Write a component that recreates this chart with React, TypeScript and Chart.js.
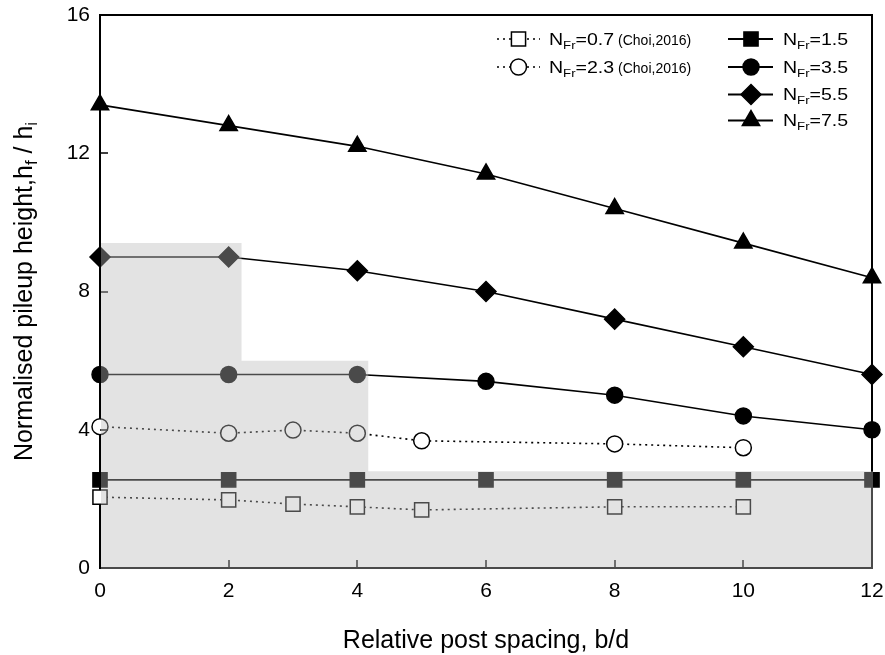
import React, { useEffect, useRef } from 'react';
import { Chart, registerables } from 'chart.js';

Chart.register(...registerables);

// ---------- data ----------
const xTicks = [0, 2, 4, 6, 8, 10, 12];
const yTicks = [0, 4, 8, 12, 16];

const spacing = [0, 2, 4, 6, 8, 10, 12];
const nfr15 = [2.55, 2.55, 2.55, 2.55, 2.55, 2.55, 2.55];
const nfr35 = [5.6, 5.6, 5.6, 5.4, 5.0, 4.4, 4.0];
const nfr55 = [9.0, 9.0, 8.6, 8.0, 7.2, 6.4, 5.6];
const nfr75 = [13.4, 12.8, 12.2, 11.4, 10.4, 9.4, 8.4];

const choiSpacing = [0, 2, 3, 4, 5, 8, 10];
const choi07 = [2.05, 1.97, 1.85, 1.77, 1.68, 1.77, 1.77];
const choi23 = [4.09, 3.9, 3.99, 3.9, 3.68, 3.59, 3.48];

// shaded step region: x edges and top value of each step
const shadeEdges = [0, 2.2, 4.17, 12];
const shadeTops = [9.4, 6.0, 2.8];

const legendValues = ['0.7', '2.3', '1.5', '3.5', '5.5', '7.5'];
const legendNote = ' (Choi,2016)';

const xTitle = 'Relative post spacing, b/d';

const FONT = '"Liberation Sans", Arial, sans-serif';

function pts(xs: number[], ys: number[]) {
  return xs.map((x, i) => ({ x, y: ys[i] }));
}

function drawMarker(ctx: CanvasRenderingContext2D, style: string, x: number, y: number, r: number, fill: string) {
  ctx.beginPath();
  if (style === 'rect') {
    const s = Math.SQRT1_2 * r;
    ctx.rect(x - s, y - s, 2 * s, 2 * s);
  } else if (style === 'circle') {
    ctx.arc(x, y, r, 0, Math.PI * 2);
  } else if (style === 'rectRot') {
    ctx.moveTo(x, y - r);
    ctx.lineTo(x + r, y);
    ctx.lineTo(x, y + r);
    ctx.lineTo(x - r, y);
    ctx.closePath();
  } else if (style === 'triangle') {
    let a = 0;
    ctx.moveTo(x + Math.sin(a) * r, y - Math.cos(a) * r);
    a += (2 * Math.PI) / 3;
    ctx.lineTo(x + Math.sin(a) * r, y - Math.cos(a) * r);
    a += (2 * Math.PI) / 3;
    ctx.lineTo(x + Math.sin(a) * r, y - Math.cos(a) * r);
    ctx.closePath();
  }
  ctx.fillStyle = fill;
  ctx.fill();
  ctx.strokeStyle = '#000';
  ctx.lineWidth = 1.5;
  ctx.stroke();
}

type Part = { t: string; size: number; dy: number; sx?: number };

function richWidth(ctx: CanvasRenderingContext2D, parts: Part[]) {
  let w = 0;
  for (const p of parts) {
    ctx.font = `${p.size}px ${FONT}`;
    w += ctx.measureText(p.t).width * (p.sx ?? 1);
  }
  return w;
}

function drawRich(ctx: CanvasRenderingContext2D, parts: Part[], x: number, y: number) {
  let cx = x;
  for (const p of parts) {
    const sx = p.sx ?? 1;
    ctx.font = `${p.size}px ${FONT}`;
    ctx.save();
    ctx.translate(cx, y + p.dy);
    ctx.scale(sx, 1);
    ctx.fillText(p.t, 0, 0);
    ctx.restore();
    cx += ctx.measureText(p.t).width * sx;
  }
}

const decorPlugin = {
  id: 'decor',
  afterDraw(chart: any) {
    const { ctx, chartArea: a, scales } = chart;
    const xs = scales.x;
    const ys = scales.y;
    ctx.save();

    // inward tick marks
    ctx.strokeStyle = '#000';
    ctx.lineWidth = 1.5;
    ctx.beginPath();
    for (const v of xTicks) {
      const px = Math.round(xs.getPixelForValue(v));
      ctx.moveTo(px, a.bottom);
      ctx.lineTo(px, a.bottom - 8);
    }
    for (const v of yTicks) {
      const py = Math.round(ys.getPixelForValue(v));
      ctx.moveTo(a.left, py);
      ctx.lineTo(a.left + 8, py);
    }
    ctx.stroke();

    // top and right frame
    ctx.lineWidth = 2;
    ctx.beginPath();
    ctx.moveTo(a.left - 1, a.top);
    ctx.lineTo(a.right, a.top);
    ctx.lineTo(a.right, a.bottom + 1);
    ctx.stroke();

    // shaded step overlay
    const yb = ys.getPixelForValue(0) + 1;
    ctx.beginPath();
    ctx.moveTo(xs.getPixelForValue(shadeEdges[0]) + 1, yb);
    for (let i = 0; i < shadeTops.length; i++) {
      const yt = ys.getPixelForValue(shadeTops[i]);
      ctx.lineTo(xs.getPixelForValue(shadeEdges[i]) + (i === 0 ? 1 : 0), yt);
      ctx.lineTo(xs.getPixelForValue(shadeEdges[i + 1]) + (i === shadeTops.length - 1 ? 1 : 0), yt);
    }
    ctx.lineTo(xs.getPixelForValue(shadeEdges[shadeEdges.length - 1]) + 1, yb);
    ctx.closePath();
    ctx.fillStyle = 'rgba(185,185,185,0.4)';
    ctx.fill();

    // x title
    ctx.fillStyle = '#000';
    ctx.textBaseline = 'alphabetic';
    ctx.textAlign = 'left';
    ctx.font = `25px ${FONT}`;
    const tw = ctx.measureText(xTitle).width;
    ctx.fillText(xTitle, (a.left + a.right) / 2 - tw / 2, 648);

    // y title (rotated, with subscripts)
    const yParts: Part[] = [
      { t: 'Normalised pileup height,h', size: 25, dy: 0 },
      { t: 'f', size: 17, dy: 5 },
      { t: ' / h', size: 25, dy: 0 },
      { t: 'i', size: 17, dy: 5 },
    ];
    const yw = richWidth(ctx, yParts);
    ctx.save();
    ctx.translate(32, (a.top + a.bottom) / 2);
    ctx.rotate(-Math.PI / 2);
    drawRich(ctx, yParts, -yw / 2, 0);
    ctx.restore();

    // legend
    const rowsY = [39, 67, 94.5, 120.5];
    const items = [
      { col: 0, row: 0, style: 'rect', r: 10, fill: '#fff', dashed: true, v: legendValues[0], note: true },
      { col: 0, row: 1, style: 'circle', r: 8, fill: '#fff', dashed: true, v: legendValues[1], note: true },
      { col: 1, row: 0, style: 'rect', r: 10, fill: '#000', dashed: false, v: legendValues[2], note: false },
      { col: 1, row: 1, style: 'circle', r: 8, fill: '#000', dashed: false, v: legendValues[3], note: false },
      { col: 1, row: 2, style: 'rectRot', r: 10, fill: '#000', dashed: false, v: legendValues[4], note: false },
      { col: 1, row: 3, style: 'triangle', r: 10, fill: '#000', dashed: false, v: legendValues[5], note: false },
    ];
    for (const it of items) {
      const cy = rowsY[it.row];
      const x0 = it.col === 0 ? 497 : 728;
      const x1 = it.col === 0 ? 540 : 773;
      const mx = it.col === 0 ? 518.5 : 751;
      const tx = it.col === 0 ? 549 : 783;
      ctx.save();
      ctx.strokeStyle = '#000';
      ctx.lineWidth = it.dashed ? 1.5 : 2;
      ctx.setLineDash(it.dashed ? [2, 4] : []);
      ctx.beginPath();
      ctx.moveTo(x0, cy);
      ctx.lineTo(x1, cy);
      ctx.stroke();
      ctx.setLineDash([]);
      drawMarker(ctx, it.style, mx, cy, it.r, it.fill);
      ctx.restore();

      const parts: Part[] = [
        { t: 'N', size: 17, dy: 0, sx: 1.15 },
        { t: 'Fr', size: 11, dy: 4, sx: 1.2 },
        { t: '=' + it.v, size: 17, dy: 0, sx: 1.15 },
      ];
      if (it.note) parts.push({ t: legendNote, size: 14, dy: 0, sx: 1 });
      ctx.fillStyle = '#000';
      drawRich(ctx, parts, tx, cy + 5.5);
    }

    ctx.restore();
  },
};

export default function App() {
  const ref = useRef<HTMLCanvasElement | null>(null);

  useEffect(() => {
    document.body.style.margin = '0';
    const canvas = ref.current;
    if (!canvas) return;

    const solid = (data: number[], style: string, r: number) => ({
      data: pts(spacing, data),
      borderColor: '#000',
      backgroundColor: '#000',
      borderWidth: 1.6,
      pointStyle: style,
      pointRadius: r,
      pointHoverRadius: r,
      pointBackgroundColor: '#000',
      pointBorderColor: '#000',
      pointBorderWidth: 1.5,
      clip: false as any,
      tension: 0,
    });
    const dotted = (data: number[], style: string, r: number) => ({
      data: pts(choiSpacing, data),
      borderColor: '#000',
      backgroundColor: '#fff',
      borderWidth: 1.6,
      borderDash: [2, 4],
      pointStyle: style,
      pointRadius: r,
      pointHoverRadius: r,
      pointBackgroundColor: '#fff',
      pointBorderColor: '#000',
      pointBorderWidth: 1.5,
      clip: false as any,
      tension: 0,
    });

    const chart = new Chart(canvas, {
      type: 'line',
      data: {
        datasets: [
          dotted(choi07, 'rect', 10),
          dotted(choi23, 'circle', 8),
          solid(nfr15, 'rect', 10),
          solid(nfr35, 'circle', 8),
          solid(nfr55, 'rectRot', 10),
          solid(nfr75, 'triangle', 10),
        ] as any,
      },
      options: {
        responsive: false,
        animation: false,
        devicePixelRatio: 1,
        layout: { padding: { left: 0, right: 13, top: 15, bottom: 0 } },
        plugins: {
          legend: { display: false },
          tooltip: { enabled: false },
          title: { display: false },
        },
        events: [],
        scales: {
          x: {
            type: 'linear',
            min: 0,
            max: 12,
            ticks: {
              stepSize: 2,
              color: '#000',
              padding: 11,
              font: { size: 21, family: FONT },
              maxRotation: 0,
            },
            grid: { display: false, drawTicks: false },
            border: { display: true, color: '#000', width: 2 },
            afterFit: (s: any) => {
              s.height = 87;
              s.paddingLeft = 0;
              s.paddingRight = 0;
            },
          },
          y: {
            type: 'linear',
            min: 0,
            max: 16,
            ticks: {
              stepSize: 4,
              color: '#000',
              padding: 10,
              font: { size: 21, family: FONT },
            },
            grid: { display: false, drawTicks: false },
            border: { display: true, color: '#000', width: 2 },
            afterFit: (s: any) => {
              s.width = 100;
              s.paddingTop = 0;
              s.paddingBottom = 0;
            },
          },
        },
      },
      plugins: [decorPlugin],
    });

    return () => chart.destroy();
  }, []);

  return (
    <div style={{ position: 'absolute', left: 0, top: 0, width: 885, height: 655, background: '#fff' }}>
      <canvas ref={ref} width={885} height={655} />
    </div>
  );
}
